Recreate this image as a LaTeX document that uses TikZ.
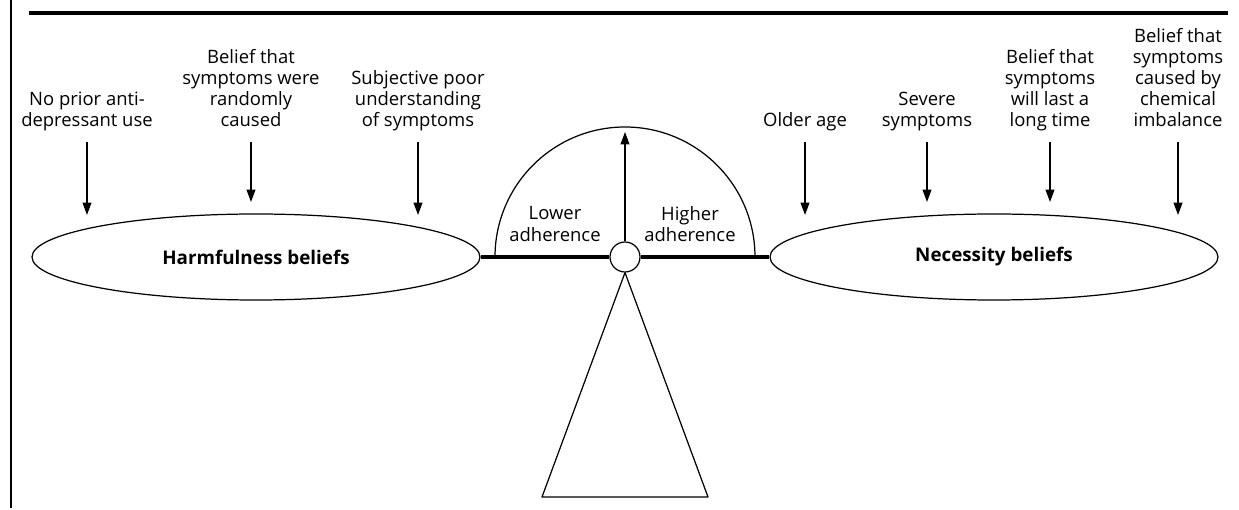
\documentclass[tikz,border=0pt]{standalone}
\usepackage{fontspec}
\setmainfont{Open Sans}
\usepackage{tikz}
\usetikzlibrary{arrows.meta,shapes.geometric}
\tikzset{
  factor/.style={anchor=south,align=center,inner sep=0pt,text depth=2pt,font=\fontsize{10.5}{12}\selectfont},
  side/.style={align=center,inner sep=0pt,font=\fontsize{10.5}{12}\selectfont},
  push/.style={-{Triangle[length=7pt,width=5pt]},line width=0.7pt,shorten <=6.5pt},
  belief/.style={draw,ellipse,line width=0.7pt,minimum width=8.96cm,minimum height=1.72cm,inner sep=0pt,font=\bfseries\fontsize{10.7}{12}\selectfont}
}

\begin{document}
\begin{tikzpicture}[line join=round]
\useasboundingbox (-12.5,-5.06) rectangle (12.28,5.14);
\draw[line width=0.9pt] (-12.28,5.14)--(-12.28,-5.02);
\draw[line width=2.3pt] (-11.92,4.88)--(12.06,4.88);
% the balance
\node[belief] (harm) at (-7.38,0) {Harmfulness beliefs};
\node[belief] (need) at (7.38,0) {Necessity beliefs};
\node[draw,circle,minimum size=0.6cm,inner sep=0pt,line width=0.7pt] (pivot) at (0,0) {};
\draw[line width=0.7pt] (-2.6,0) arc (180:0:2.6);
\draw[line width=2pt] (harm.east)--(pivot.west) (pivot.east)--(need.west);
\draw[line width=0.7pt] (pivot.south)--(-1.66,-4.8)--(1.66,-4.8)--cycle;
\coordinate (needle) at (0,2.5); \draw[push,shorten <=0pt] (pivot.north)--(needle);
\node[side] (lower) at (-1.4,0.66) {Lower\\adherence};
\node[side] (higher) at (1.3,0.66) {Higher\\adherence};
% harmfulness factors
\node[factor] (prior) at (-10.76,2.53) {No prior anti-\\depressant use}; \coordinate (prior-tip) at (-10.76,0.84);
\node[factor] (random) at (-7.48,2.53) {Belief that\\symptoms were\\randomly\\caused}; \coordinate (random-tip) at (-7.48,1.1);
\node[factor] (poor) at (-4.14,2.53) {Subjective poor\\understanding\\of symptoms}; \coordinate (poor-tip) at (-4.14,0.84);
\draw[push] (prior)--(prior-tip); \draw[push] (random)--(random-tip); \draw[push] (poor)--(poor-tip);
% necessity factors
\node[factor] (age) at (3.6,2.53) {Older age}; \coordinate (age-tip) at (3.6,0.84);
\node[factor] (severe) at (6.04,2.53) {Severe\\symptoms}; \coordinate (severe-tip) at (6.04,1.1);
\node[factor] (last) at (8.5,2.53) {Belief that\\symptoms\\will last a\\long time}; \coordinate (last-tip) at (8.5,1.1);
\node[factor] (chem) at (11.06,2.53) {Belief that\\symptoms\\caused by\\chemical\\imbalance}; \coordinate (chem-tip) at (11.06,0.84);
\draw[push] (age)--(age-tip); \draw[push] (severe)--(severe-tip); \draw[push] (last)--(last-tip); \draw[push] (chem)--(chem-tip);
\end{tikzpicture}
\end{document}
